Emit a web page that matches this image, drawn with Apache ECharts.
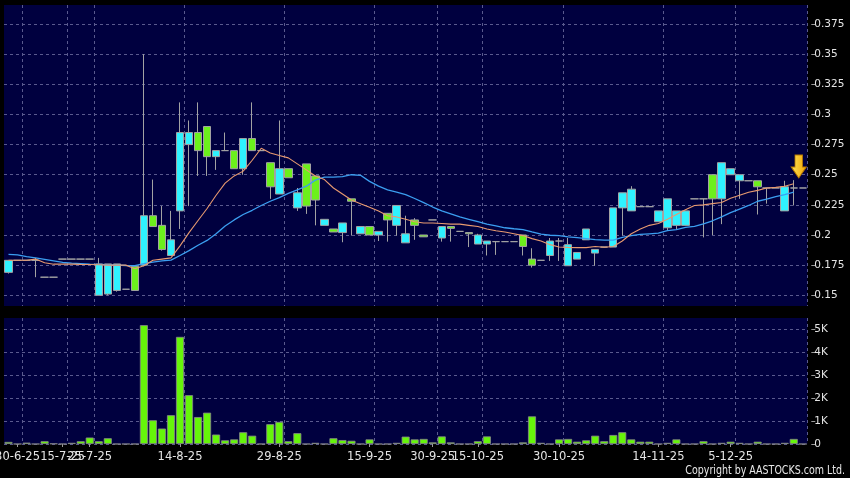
<!DOCTYPE html>
<html>
<head>
<meta charset="utf-8">
<script src="https://cdn.jsdelivr.net/npm/echarts@6/dist/echarts.min.js"></script>
<style>
html,body{margin:0;padding:0;background:#000;}
#chart{width:850px;height:478px;}
</style>
</head>
<body>
<div id="chart"></div>
<script>
// ---- data ----
const labelSlots = [1, 6, 9, 19, 30, 40, 47, 52, 61, 72, 80];
const labelTexts = ['30-6-25', '15-7-25', '25-7-25', '14-8-25', '29-8-25', '15-9-25', '30-9-25', '15-10-25', '30-10-25', '14-11-25', '5-12-25'];
const slotCount = 89;

const opens = [0.169,0.179,0.179,0.179,0.165,0.165,0.18,0.18,0.18,0.18,
  0.15,0.151,0.154,0.155,0.174,0.175,0.216,0.208,0.183,0.22,
  0.275,0.285,0.29,0.265,0.27,0.27,0.255,0.28,0.27,0.26,
  0.234,0.255,0.2225,0.259,0.249,0.208,0.205,0.202,0.23,0.201,
  0.207,0.2,0.218,0.208,0.1935,0.2125,0.2,0.2125,0.1975,0.207,
  0.203,0.202,0.1925,0.1925,0.1945,0.1945,0.1945,0.2,0.18,0.179,
  0.183,0.195,0.1745,0.18,0.196,0.185,0.19,0.19,0.2225,0.22,
  0.2235,0.2235,0.211,0.206,0.208,0.208,0.23,0.23,0.25,0.23,
  0.25,0.245,0.245,0.245,0.239,0.239,0.22,0.239,0.239];
const closes = [0.179,0.179,0.179,0.179,0.165,0.165,0.18,0.18,0.18,0.18,
  0.176,0.176,0.176,0.155,0.154,0.216,0.207,0.188,0.196,0.285,
  0.285,0.27,0.265,0.27,0.27,0.255,0.28,0.27,0.27,0.24,
  0.255,0.2475,0.235,0.224,0.229,0.213,0.2025,0.21,0.228,0.207,
  0.2,0.203,0.2125,0.2245,0.201,0.208,0.1985,0.2125,0.207,0.2055,
  0.203,0.201,0.2,0.195,0.1945,0.1945,0.1945,0.1905,0.175,0.179,
  0.195,0.195,0.192,0.1855,0.205,0.188,0.19,0.2225,0.235,0.238,
  0.2235,0.2235,0.22,0.23,0.22,0.22,0.23,0.23,0.23,0.26,
  0.255,0.25,0.245,0.24,0.239,0.239,0.24,0.239,0.239];
const lows = [0.168,0.179,0.179,0.165,0.165,0.165,0.18,0.18,0.18,0.18,
  0.15,0.15,0.153,0.155,0.154,0.174,0.207,0.187,0.183,0.205,
  0.224,0.249,0.249,0.254,0.27,0.255,0.25,0.27,0.27,0.23,
  0.234,0.2475,0.22,0.2175,0.208,0.208,0.2025,0.194,0.1995,0.201,
  0.2,0.195,0.1945,0.1995,0.1935,0.196,0.1985,0.2125,0.1945,0.1945,
  0.203,0.19,0.1925,0.183,0.1835,0.1945,0.1945,0.183,0.173,0.179,
  0.1785,0.1785,0.1745,0.18,0.196,0.1745,0.19,0.19,0.1995,0.22,
  0.2235,0.2235,0.211,0.2035,0.2045,0.208,0.23,0.198,0.2,0.209,
  0.25,0.23,0.245,0.217,0.226,0.239,0.22,0.2245,0.239];
const highs = [0.179,0.179,0.179,0.181,0.165,0.165,0.18,0.18,0.18,0.18,
  0.181,0.176,0.176,0.155,0.175,0.35,0.246,0.224,0.22,0.31,
  0.295,0.31,0.29,0.27,0.285,0.27,0.28,0.31,0.27,0.26,
  0.295,0.255,0.239,0.259,0.249,0.213,0.205,0.21,0.23,0.207,
  0.207,0.203,0.218,0.2245,0.216,0.214,0.2,0.2125,0.207,0.207,
  0.203,0.202,0.201,0.195,0.1945,0.1945,0.1945,0.2,0.189,0.179,
  0.1975,0.1975,0.1975,0.1855,0.205,0.188,0.19,0.2225,0.235,0.2405,
  0.2235,0.2235,0.22,0.23,0.22,0.22,0.23,0.23,0.25,0.26,
  0.255,0.25,0.245,0.245,0.239,0.239,0.245,0.2455,0.239];
const volumes = [90,0,60,0,120,20,0,50,120,280,
  120,250,0,0,0,5160,1030,670,1250,4650,
  2120,1170,1360,410,160,200,510,360,0,860,
  960,120,470,0,50,0,250,170,140,0,
  200,0,0,50,320,200,220,70,330,70,
  0,0,120,330,0,0,0,70,1200,50,
  0,200,220,100,160,360,120,390,510,200,
  100,100,0,50,200,0,0,120,0,50,
  100,50,0,100,0,0,50,220,0];
const ma10 = [0.179,0.179,0.179,0.18,0.177,0.1758,0.1758,0.1758,0.1756,0.1755,
  0.1753,0.175,0.175,0.175,0.172,0.1745,0.179,0.18,0.181,0.191,
  0.202,0.212,0.222,0.233,0.243,0.249,0.253,0.262,0.272,0.268,
  0.266,0.264,0.259,0.254,0.249,0.246,0.239,0.234,0.229,0.226,
  0.223,0.22,0.216,0.215,0.213,0.211,0.21,0.21,0.2095,0.209,
  0.209,0.208,0.207,0.205,0.2035,0.2025,0.201,0.1995,0.197,0.195,
  0.192,0.19,0.1897,0.1895,0.1895,0.1905,0.1898,0.1905,0.195,0.201,
  0.205,0.208,0.2095,0.213,0.217,0.221,0.2245,0.225,0.226,0.227,
  0.2305,0.233,0.2355,0.237,0.239,0.2395,0.2405,0.2425,null];
const ma20 = [0.184,0.1835,0.182,0.181,0.1798,0.1785,0.1772,0.1766,0.1762,0.1758,
  0.1756,0.1753,0.175,0.1747,0.1745,0.1762,0.1775,0.1785,0.1792,0.183,
  0.187,0.1915,0.1955,0.201,0.2075,0.2125,0.217,0.2205,0.2245,0.228,
  0.231,0.2345,0.2375,0.2405,0.2455,0.248,0.248,0.2485,0.25,0.2495,
  0.2445,0.2405,0.2375,0.2355,0.2335,0.2303,0.2268,0.2232,0.22,0.2175,
  0.215,0.213,0.211,0.209,0.2075,0.206,0.2052,0.2045,0.2025,0.2008,
  0.1998,0.1995,0.1985,0.1978,0.197,0.1962,0.1958,0.1958,0.198,0.1995,
  0.2005,0.201,0.2015,0.2036,0.2045,0.2064,0.2072,0.2092,0.2118,0.215,
  0.2185,0.2215,0.2245,0.228,0.2298,0.2318,0.2335,0.2355,null];
const priceTicks = [0.15, 0.175, 0.2, 0.225, 0.25, 0.275, 0.3, 0.325, 0.35, 0.375];
const volumeTicks = [0, 1000, 2000, 3000, 4000, 5000];
const priceRange = [0.1411, 0.3908];
const volumeRange = [0, 5470];
const arrowSlot = 87;
const arrowValue = 0.2394;

// ---- build ----
const categories = Array.from({length: slotCount}, (_, i) => {
  const k = labelSlots.indexOf(i);
  return k >= 0 ? labelTexts[k] : 'd' + i;
});
const labelSet = new Set(labelSlots);
const splitSet = new Set(labelSlots.map(s => s + 1));
const candles = opens.map((o, i) => [o, closes[i], lows[i], highs[i]]);

const CYAN = '#2ff2ff', GREEN = '#6cf01c', EDGE = '#a3a3a3';
const GRID_LINE = {show: true, lineStyle: {color: '#5a5a8e', type: [3, 3], width: 1}};
const BG = '#00003f';
const FONT = 'DejaVu Sans';

const chart = echarts.init(document.getElementById('chart'), null, {renderer: 'canvas'});
chart.setOption({
  animation: false,
  backgroundColor: '#000000',
  grid: [
    {left: 4, top: 5, right: 42.7, height: 301, show: true, backgroundColor: BG, borderWidth: 0, containLabel: false, outerBoundsMode: 'none'},
    {left: 4, top: 318, right: 42.7, bottom: 34, show: true, backgroundColor: BG, borderWidth: 0, containLabel: false, outerBoundsMode: 'none'}
  ],
  xAxis: [
    {type: 'category', gridIndex: 0, data: categories, boundaryGap: true,
     axisLine: {show: false}, axisTick: {show: false}, axisLabel: {show: false},
     splitLine: Object.assign({interval: (i) => splitSet.has(i)}, GRID_LINE)},
    {type: 'category', gridIndex: 1, data: categories, boundaryGap: true,
     axisLine: {show: false},
     axisTick: {show: true, alignWithLabel: true, interval: (i) => labelSet.has(i), length: 3, lineStyle: {color: '#9a9a9a'}},
     axisLabel: {interval: (i) => labelSet.has(i), color: '#e4e4e4', fontFamily: FONT, fontSize: 11.5, margin: 7, hideOverlap: false},
     splitLine: Object.assign({interval: (i) => splitSet.has(i)}, GRID_LINE)}
  ],
  yAxis: [
    {type: 'value', gridIndex: 0, position: 'right', min: priceRange[0], max: priceRange[1], offset: 4,
     axisLine: {show: false},
     axisTick: {show: true, length: 4, lineStyle: {color: '#9a9a9a'}, customValues: priceTicks},
     axisLabel: {color: '#e4e4e4', fontFamily: FONT, fontSize: 10.5, margin: 3, customValues: priceTicks},
     splitLine: GRID_LINE},
    {type: 'value', gridIndex: 1, position: 'right', min: volumeRange[0], max: volumeRange[1], offset: 4,
     axisLine: {show: false},
     axisTick: {show: true, length: 4, lineStyle: {color: '#9a9a9a'}, customValues: volumeTicks},
     axisLabel: {color: '#e4e4e4', fontFamily: FONT, fontSize: 10.5, margin: 3, customValues: volumeTicks,
       formatter: (v) => v === 0 ? '0' : (v / 1000) + 'K'},
     splitLine: GRID_LINE}
  ],
  series: [
    {type: 'candlestick', xAxisIndex: 0, yAxisIndex: 0, data: candles, barWidth: 8,
     itemStyle: {color: CYAN, color0: GREEN, borderColor: EDGE, borderColor0: EDGE, borderColorDoji: EDGE, borderWidth: 1}},
    {type: 'line', xAxisIndex: 0, yAxisIndex: 0, data: ma20, symbol: 'none', silent: true,
     lineStyle: {color: '#3b9ef0', width: 1.3}},
    {type: 'line', xAxisIndex: 0, yAxisIndex: 0, data: ma10, symbol: 'none', silent: true,
     lineStyle: {color: '#e89a70', width: 1.1},
     markPoint: {
       symbol: 'path://M3.5,0 L10.5,0 L10.5,12 L14,12 L7,23 L0,12 L3.5,12 Z',
       symbolSize: [15, 23], symbolOffset: [5, -21], label: {show: false},
       itemStyle: {color: new echarts.graphic.LinearGradient(0, 0, 1, 0, [{offset: 0, color: '#ffe35a'}, {offset: 1, color: '#f0a400'}]),
         borderColor: '#b87800', borderWidth: 1},
       data: [{coord: [arrowSlot, arrowValue]}]
     }},
    {type: 'bar', xAxisIndex: 1, yAxisIndex: 1, data: volumes, barWidth: 8,
     itemStyle: {color: '#66f50a', borderColor: '#8a8a8a', borderWidth: 0.8}}
  ],
  graphic: [
    {type: 'text', x: 845, y: 471, scaleX: 0.79,
     style: {text: 'Copyright by AASTOCKS.com Ltd.', fill: '#e8e8e8', fontFamily: FONT, fontSize: 12,
       align: 'right', verticalAlign: 'middle'}}
  ]
});
</script>
</body>
</html>
